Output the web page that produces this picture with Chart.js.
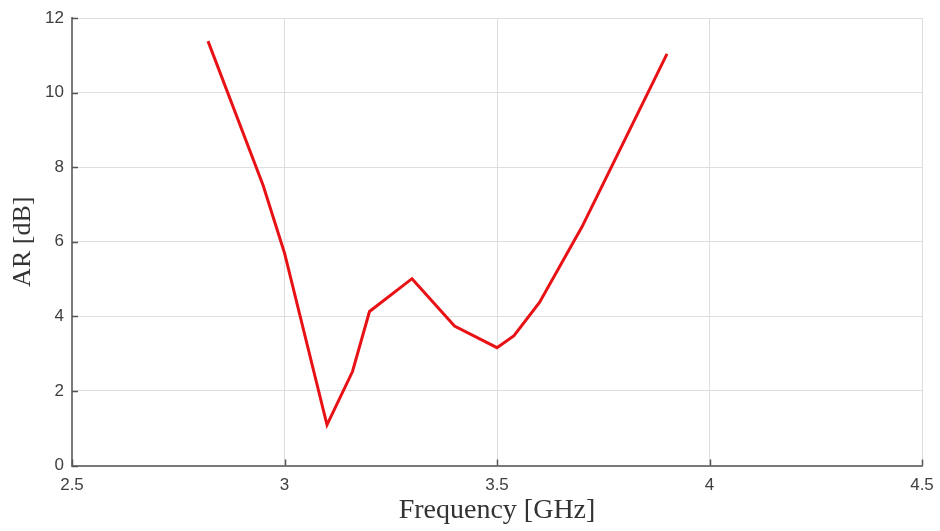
<!DOCTYPE html>
<html>
<head>
<meta charset="utf-8">
<script src="https://cdn.jsdelivr.net/npm/chart.js@4"></script>
<style>
  html, body { margin: 0; padding: 0; background: #fff; }
  canvas { display: block; }
</style>
</head>
<body>
<canvas id="c" width="940" height="531"></canvas>
<script>
// Data
const frequencyGHz = [2.82, 2.95, 3.0, 3.1, 3.16, 3.2, 3.3, 3.4, 3.5, 3.54, 3.6, 3.7, 3.9];
const arDb = [11.38, 7.5, 5.7, 1.09, 2.52, 4.13, 5.01, 3.74, 3.16, 3.48, 4.37, 6.4, 11.04];
const xTicks = [2.5, 3, 3.5, 4, 4.5];
const yTicks = [0, 2, 4, 6, 8, 10, 12];
const xTitle = 'Frequency [GHz]';
const yTitle = 'AR [dB]';

const points = frequencyGHz.map((f, i) => ({ x: f, y: arDb[i] }));

// Inward tick marks, drawn through the scales
const innerTicks = {
  id: 'innerTicks',
  afterDraw(chart) {
    const { ctx, scales: { x, y }, chartArea } = chart;
    ctx.save();
    ctx.strokeStyle = '#555';
    ctx.lineWidth = 1.5;
    ctx.beginPath();
    xTicks.forEach(v => {
      const px = Math.round(x.getPixelForValue(v)) + 0.5;
      ctx.moveTo(px, chartArea.bottom);
      ctx.lineTo(px, chartArea.bottom - 6);
    });
    yTicks.forEach(v => {
      const py = Math.round(y.getPixelForValue(v)) + 0.5;
      ctx.moveTo(chartArea.left, py);
      ctx.lineTo(chartArea.left + 6, py);
    });
    ctx.stroke();
    ctx.restore();
  }
};

new Chart(document.getElementById('c'), {
  type: 'scatter',
  data: {
    datasets: [{
      data: points,
      showLine: true,
      borderColor: 'rgb(232,18,22)',
      backgroundColor: 'rgb(232,18,22)',
      borderWidth: 3,
      pointRadius: 0,
      tension: 0
    }]
  },
  options: {
    responsive: false,
    animation: false,
    devicePixelRatio: 1,
    layout: { padding: { top: 18, right: 18, left: 0, bottom: 0 } },
    plugins: { legend: { display: false }, tooltip: { enabled: false } },
    scales: {
      x: {
        type: 'linear',
        min: 2.5, max: 4.5,
        afterBuildTicks: s => { s.ticks = xTicks.map(v => ({ value: v })); },
        afterFit: s => { s.height = 65.5; s.paddingLeft = 0; s.paddingRight = 0; },
        ticks: {
          autoSkip: false,
          maxRotation: 0,
          padding: 10,
          color: '#404040',
          font: { family: 'Liberation Sans, Arial, sans-serif', size: 17 },
          callback: v => String(v)
        },
        grid: { color: '#dedede', lineWidth: 1, drawTicks: false },
        border: { color: '#7a7a7a', width: 2 },
        title: {
          display: true, text: xTitle, color: '#333',
          font: { family: 'Liberation Serif, Times New Roman, serif', size: 28 },
          padding: { top: 0, bottom: 4 }
        }
      },
      y: {
        type: 'linear',
        min: 0, max: 12,
        afterBuildTicks: s => { s.ticks = yTicks.map(v => ({ value: v })); },
        afterFit: s => { s.width = 72; s.paddingTop = 0; s.paddingBottom = 0; },
        ticks: {
          autoSkip: false,
          padding: 8,
          color: '#404040',
          font: { family: 'Liberation Sans, Arial, sans-serif', size: 17 },
          callback: v => String(v)
        },
        grid: { color: '#dedede', lineWidth: 1, drawTicks: false },
        border: { color: '#7a7a7a', width: 2 },
        title: {
          display: true, text: yTitle, color: '#333',
          font: { family: 'Liberation Serif, Times New Roman, serif', size: 26 },
          padding: { top: 8, bottom: 0 }
        }
      }
    }
  },
  plugins: [innerTicks]
});
</script>
</body>
</html>
